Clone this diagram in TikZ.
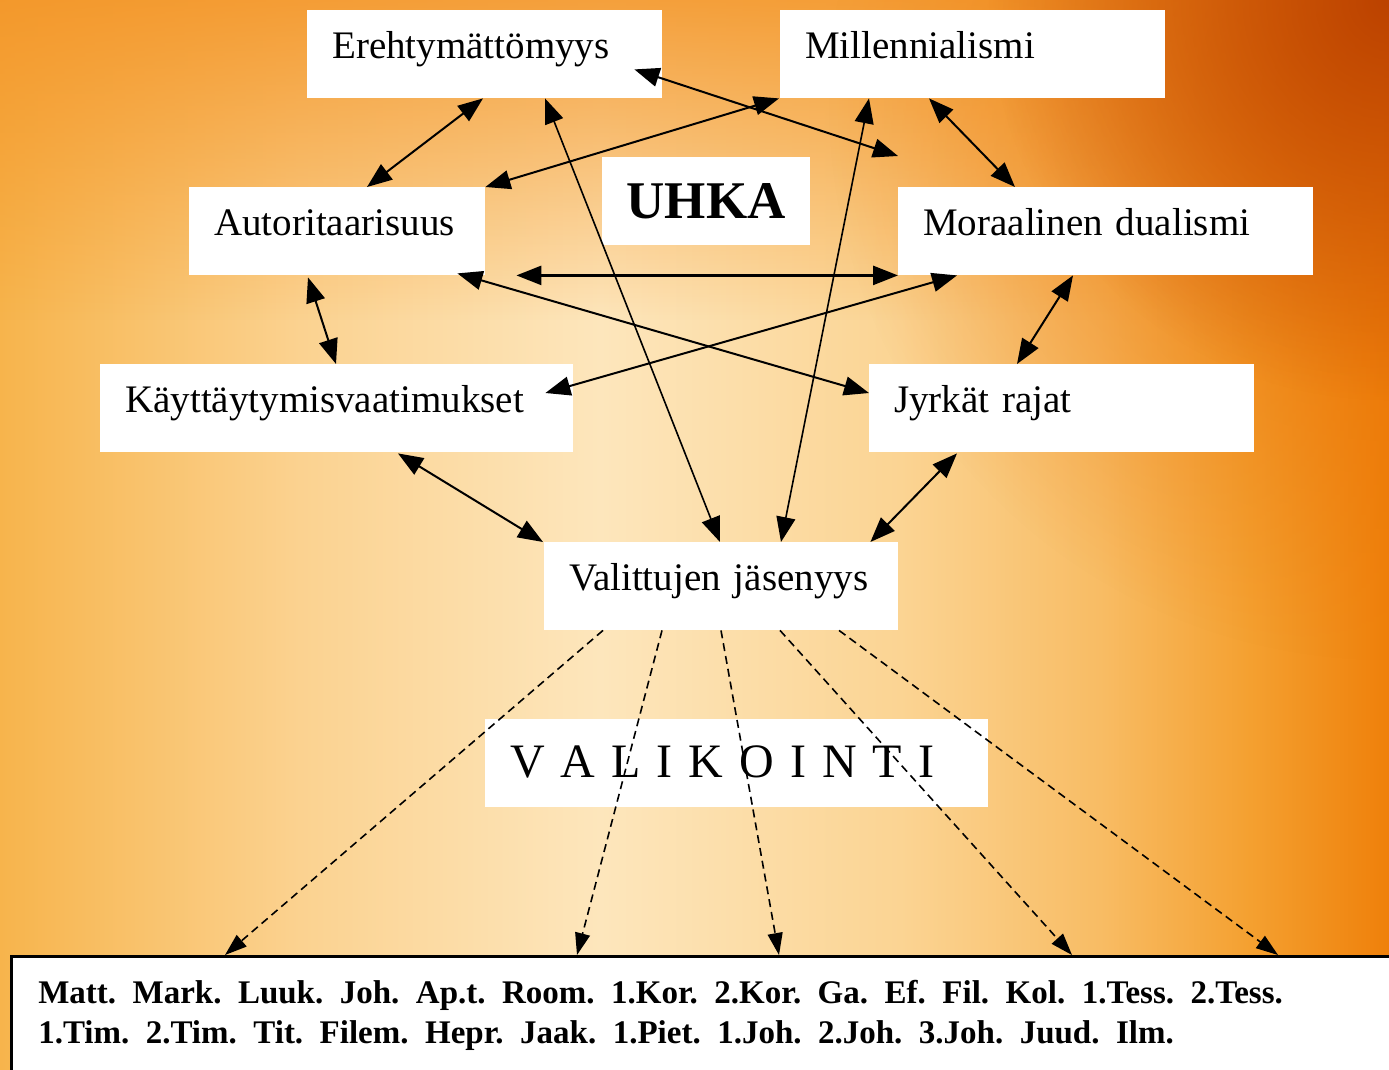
\documentclass[tikz,border=0pt]{standalone}
\usepackage{fontspec}
\setmainfont{Liberation Serif}
\usetikzlibrary{arrows.meta,calc,fadings}
\definecolor{bgA}{HTML}{F7B44C}
\definecolor{bgB}{HTML}{FBD290}
\definecolor{bgC}{HTML}{FDE6BC}
\definecolor{bgD}{HTML}{FBD493}
\definecolor{bgE}{HTML}{F8BC64}
\definecolor{bgF}{HTML}{F4A030}
\definecolor{bgG}{HTML}{EF800A}
\definecolor{topC}{HTML}{F39426}
\definecolor{rightC}{HTML}{EA7408}
\definecolor{cornerC}{HTML}{BC4200}
\pgfdeclarehorizontalshading{bgshade}{100bp}{color(0bp)=(bgA); color(25bp)=(bgA); color(35.8bp)=(bgB); color(46.6bp)=(bgC); color(57.4bp)=(bgD); color(64.6bp)=(bgE); color(70bp)=(bgF); color(75bp)=(bgG); color(100bp)=(bgG)}
\tikzfading[name=topfade, top color=transparent!0, bottom color=transparent!100]
\tikzfading[name=radfade, inner color=transparent!0, outer color=transparent!100]
\begin{document}
\begin{tikzpicture}[x=1pt,y=-1pt,
  box/.style={fill=white, inner xsep=25pt, inner ysep=0pt, text height=48pt, text depth=40pt,
    align=left, anchor=north west, font=\fontsize{39}{47}\selectfont},
  arr/.style={{Triangle[length=25pt,width=19pt]}-{Triangle[length=25pt,width=19pt]}, line width=2pt},
  thinarr/.style={arr, line width=1.6pt},
  darr/.style={-{Triangle[length=22pt,width=15pt]}, line width=1.6pt, dash pattern=on 8pt off 5pt}]
\useasboundingbox (0,0) rectangle (1389,1069);
\clip (0,0) rectangle (1389,1069);
% background
\shade[shading=bgshade] (0,0) rectangle (1389,1069);
\fill[color=topC, path fading=topfade, fill opacity=0.85] (0,0) rectangle (1389,320);
\fill[color=rightC, path fading=radfade, fill opacity=0.85] (1389,100) circle (560);
\fill[color=cornerC, path fading=radfade] (1389,0) circle (400);
% boxes
\node[box, text width=305pt] (ereh) at (307,10) {Erehtymättömyys};
\node[box, text width=335pt] (mill) at (780,10) {Millennialismi};
\node[fill=white, anchor=north west, minimum width=208pt, inner xsep=0pt, inner ysep=0pt,
  text height=61pt, text depth=27pt, font=\bfseries\fontsize{53}{60}\selectfont] (uhka) at (602,157) {UHKA};
\node[box, text width=246pt] (auto) at (189,187) {\mbox{Autoritaarisuus}};
\node[box, text width=365pt] (mora) at (898,187) {\mbox{Moraalinen dualismi}};
\node[box, text width=423pt] (kayt) at (100,364) {\mbox{Käyttäytymisvaatimukset}};
\node[box, text width=335pt] (jyrk) at (869,364) {\mbox{Jyrkät rajat}};
\node[box, text width=304pt] (vali) at (544,542) {\mbox{Valittujen jäsenyys}};
\node[box, text width=453pt, text height=58pt, text depth=30pt,
  font=\fontsize{48}{56}\selectfont] (valk) at (485,719) {\mbox{V A L I K O I N T I}};
\node[fill=white, draw=black, line width=2.5pt, anchor=north west, inner xsep=27pt, inner ysep=24pt,
  text width=1340pt, align=left, font=\bfseries\fontsize{33}{40}\selectfont] (books) at (10,955)
  {Matt. Mark. Luuk. Joh. Ap.t. Room. 1.Kor. 2.Kor. Ga. Ef. Fil. Kol. 1.Tess. 2.Tess.\\
   1.Tim. 2.Tim. Tit. Filem. Hepr. Jaak. 1.Piet. 1.Joh. 2.Joh. 3.Joh. Juud. Ilm.};
% solid double arrows
\draw[arr] ($(ereh.south west)+(176,0)$) -- ($(auto.north west)+(178,0)$);
\draw[arr] ($(ereh.south east)+(-28,-29)$) -- ($(mora.north west)+(0,-31)$);
\draw[arr] ($(mill.south west)+(-1,0)$) -- (auto.north east);
\draw[thinarr] ($(ereh.south west)+(238,0)$) -- ($(vali.north west)+(176,0)$);
\draw[thinarr] ($(mill.south west)+(89,0)$) -- ($(vali.north west)+(237,0)$);
\draw[arr] ($(mill.south west)+(149,0)$) -- ($(mora.north west)+(117,0)$);
\draw[arr, line width=2.6pt] ($(auto.south east)+(31,0)$) -- (mora.south west);
\draw[arr] ($(auto.south east)+(-28,-2)$) -- ($(jyrk.north west)+(0,29)$);
\draw[arr] ($(mora.south west)+(59,0)$) -- ($(kayt.north east)+(-28,29)$);
\draw[arr] ($(auto.south west)+(119,2)$) -- ($(kayt.north west)+(236,0)$);
\draw[arr] ($(mora.south west)+(175,0)$) -- ($(jyrk.north west)+(148,0)$);
\draw[arr] ($(kayt.south west)+(298,1)$) -- ($(vali.north west)+(-1,0)$);
\draw[arr] ($(jyrk.south west)+(88,1)$) -- ($(vali.north east)+(-28,0)$);
% dashed arrows
\draw[darr] ($(vali.south west)+(59,0)$) -- ($(books.north west)+(215,0)$);
\draw[darr] ($(vali.south west)+(118,0)$) -- ($(books.north west)+(567,0)$);
\draw[darr] ($(vali.south west)+(177,0)$) -- ($(books.north west)+(769,0)$);
\draw[darr] ($(vali.south west)+(236,0)$) -- ($(books.north west)+(1062,0)$);
\draw[darr] ($(vali.south west)+(295,0)$) -- ($(books.north west)+(1268,0)$);
\end{tikzpicture}
\end{document}
